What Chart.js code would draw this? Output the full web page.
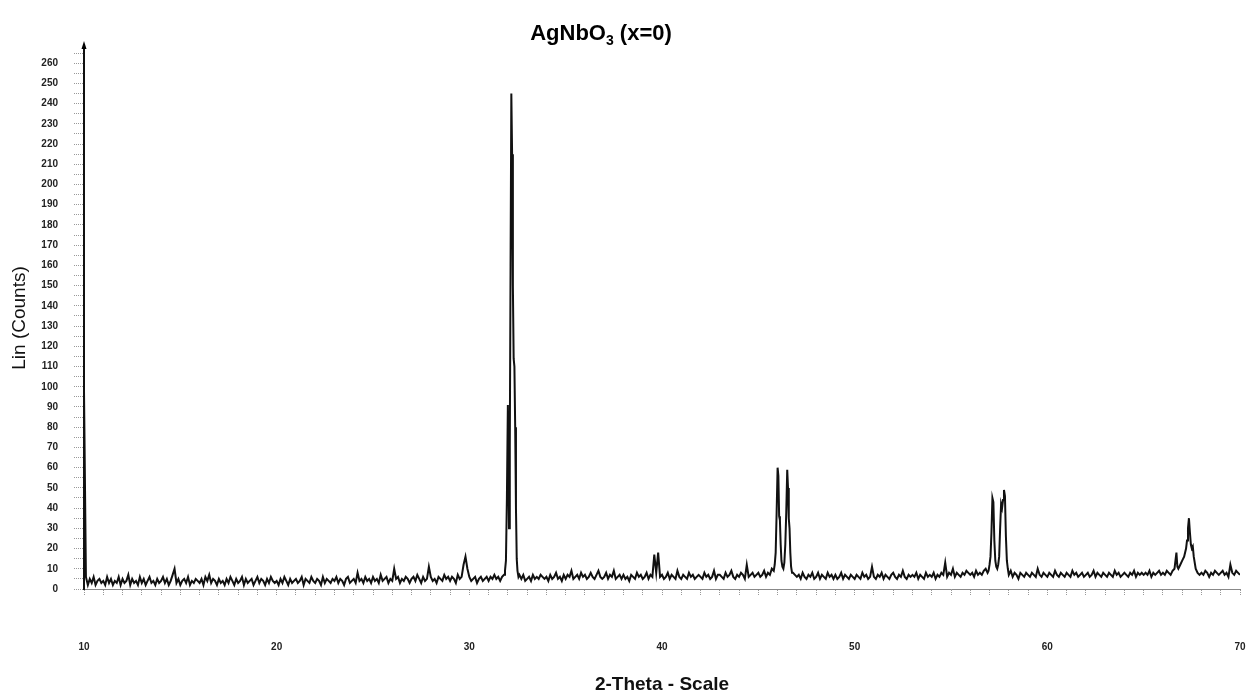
<!DOCTYPE html>
<html>
<head>
<meta charset="utf-8">
<title>AgNbO3 (x=0)</title>
<script src="https://cdn.jsdelivr.net/npm/chart.js@4.4.0/dist/chart.umd.min.js"></script>
<style>
  html, body { margin: 0; padding: 0; background: #fff; }
  canvas { display: block; }
</style>
</head>
<body>
<canvas id="xrdChart" width="1253" height="696"></canvas>
<script>
// background scan, one value every 0.1 deg starting at 10.0
const startTheta = 10;
const stepTheta = 0.1;
const baseCounts = [
  98, 6, 2, 5, 3, 6, 2, 4, 5, 3,   // 10
  4, 2, 6, 3, 5, 2, 4, 3, 6, 2,    // 11
  5, 3, 4, 7, 2, 5, 3, 4, 2, 6,    // 12
  3, 5, 2, 4, 6, 3, 4, 2, 5, 3,    // 13
  4, 6, 3, 5, 2, 4, 7, 10, 3, 5,   // 14
  2, 4, 5, 3, 6, 2, 4, 3, 5, 4,    // 15
  3, 5, 2, 6, 4, 7, 3, 5, 4, 2,    // 16
  5, 3, 4, 2, 5, 3, 6, 4, 2, 5,    // 17
  3, 4, 6, 2, 5, 3, 4, 5, 2, 4,    // 18
  6, 3, 5, 4, 2, 5, 3, 6, 4, 3,    // 19
  4, 2, 5, 3, 6, 4, 2, 5, 3, 4,    // 20
  5, 3, 4, 6, 2, 5, 4, 3, 6, 4,    // 21
  3, 5, 4, 2, 6, 3, 5, 4, 3, 5,    // 22
  4, 6, 3, 5, 4, 2, 5, 6, 3, 4,    // 23
  5, 3, 8, 4, 5, 3, 6, 4, 5, 3,    // 24
  6, 4, 5, 3, 7, 4, 5, 6, 3, 5,    // 25
  4, 10, 5, 6, 3, 5, 4, 6, 5, 3,   // 26
  5, 6, 4, 7, 5, 3, 6, 4, 5, 11,   // 27
  6, 4, 5, 3, 6, 5, 4, 7, 5, 6,    // 28
  4, 6, 5, 3, 7, 5, 6, 12, 16, 10, // 29
  6, 4, 5, 6, 3, 5, 6, 4, 5, 6,    // 30
  4, 6, 5, 7, 5, 6, 4, 6, 7, 8,    // 31
  8, 8, 8, 8, 8, 8, 7, 5, 7, 4,    // 32
  5, 6, 4, 7, 5, 6, 5, 7, 6, 5,    // 33
  6, 4, 7, 5, 6, 8, 5, 6, 4, 7,    // 34
  5, 7, 6, 9, 5, 6, 7, 5, 8, 6,    // 35
  7, 5, 6, 8, 6, 5, 7, 9, 6, 5,    // 36
  6, 8, 5, 7, 6, 9, 5, 6, 7, 5,    // 37
  7, 5, 6, 4, 7, 6, 5, 8, 6, 7,    // 38
  5, 6, 8, 5, 7, 6, 17, 8, 18, 6,  // 39
  7, 5, 6, 8, 5, 7, 6, 5, 9, 6,    // 40
  5, 7, 6, 5, 8, 6, 7, 5, 6, 7,    // 41
  6, 5, 8, 6, 7, 5, 6, 9, 5, 7,    // 42
  7, 6, 5, 8, 6, 7, 9, 6, 5, 7,    // 43
  6, 8, 7, 5, 12, 6, 7, 8, 6, 7,   // 44
  8, 6, 7, 9, 6, 8, 7, 10, 8, 9,   // 45
  8, 8, 8, 8, 8, 8, 8, 8, 8, 7,    // 46
  6, 7, 5, 8, 6, 5, 7, 6, 8, 5,    // 47
  6, 8, 5, 7, 6, 5, 8, 6, 7, 5,    // 48
  7, 5, 6, 8, 5, 7, 6, 5, 7, 6,    // 49
  5, 7, 6, 5, 8, 6, 7, 5, 6, 11,   // 50
  6, 5, 7, 6, 8, 5, 7, 6, 5, 7,    // 51
  8, 6, 5, 7, 6, 9, 6, 5, 7, 6,    // 52
  7, 6, 8, 5, 7, 6, 5, 8, 6, 7,    // 53
  6, 8, 5, 7, 6, 8, 7, 13, 6, 8,   // 54
  7, 10, 6, 8, 7, 6, 8, 7, 9, 8,   // 55
  7, 8, 6, 9, 7, 8, 7, 9, 10, 8,   // 56
  8, 8, 8, 8, 8, 8, 8, 8, 8, 8,    // 57
  7, 9, 6, 8, 7, 5, 8, 7, 6, 8,    // 58
  7, 6, 8, 7, 6, 10, 7, 6, 8, 7,   // 59
  6, 8, 7, 6, 9, 7, 6, 8, 7, 6,    // 60
  8, 7, 6, 9, 7, 8, 6, 7, 8, 6,    // 61
  7, 8, 6, 7, 9, 6, 8, 7, 6, 8,    // 62
  7, 6, 8, 7, 6, 9, 7, 8, 6, 7,    // 63
  8, 7, 6, 8, 7, 9, 6, 8, 7, 8,    // 64
  7, 8, 7, 9, 6, 8, 7, 8, 9, 7,    // 65
  8, 7, 9, 8, 7, 9, 8, 8, 8, 8,    // 66
  8, 8, 8, 8, 8, 8, 8, 8, 8, 7,    // 67
  8, 7, 9, 8, 6, 8, 7, 9, 8, 7,    // 68
  8, 9, 7, 8, 6, 12, 8, 7, 9, 8,   // 69
  7                                // 70
];

// reflections, sampled finer
const peakTheta = [
  31.85, 31.9, 31.95, 32.0, 32.03, 32.06, 32.1, 32.14, 32.18, 32.22, 32.26, 32.3, 32.34, 32.38, 32.42, 32.46, 32.5, 32.55,
  45.8, 45.85, 45.9, 45.95, 46.0, 46.04, 46.08, 46.12, 46.16, 46.2, 46.25, 46.3, 46.35, 46.4, 46.45, 46.5, 46.54, 46.58, 46.62, 46.66, 46.7, 46.75,
  56.95, 57.0, 57.05, 57.1, 57.15, 57.2, 57.25, 57.3, 57.35, 57.4, 57.45, 57.5, 57.55, 57.6, 57.65, 57.7, 57.75, 57.8, 57.85, 57.9, 57.95,
  66.6, 66.65, 66.7, 66.75, 66.8, 66.9, 67.0, 67.1, 67.2, 67.25, 67.3, 67.35, 67.4, 67.45, 67.5, 67.55, 67.6, 67.7, 67.8
];
const peakCounts = [
  9, 14, 45, 91, 60, 30, 70, 160, 245, 215, 150, 114, 110, 80, 40, 15, 9, 6,
  9, 12, 18, 38, 60, 56, 36, 34, 22, 14, 11, 10, 13, 22, 38, 59, 50, 35, 30, 18, 11, 8,
  9, 12, 16, 28, 45, 43, 24, 14, 11, 10, 12, 16, 30, 42, 40, 44, 49, 46, 26, 14, 10,
  10, 14, 18, 11, 10, 12, 14, 16, 20, 24, 30, 35, 28, 22, 20, 21, 16, 10, 8
];

const xTickLabels = ['10', '20', '30', '40', '50', '60', '70'];
const yTickLabels = ['0', '10', '20', '30', '40', '50', '60', '70', '80', '90', '100', '110', '120', '130',
  '140', '150', '160', '170', '180', '190', '200', '210', '220', '230', '240', '250', '260'];

const titleMain = 'AgNbO';
const titleSub = '3';
const titleTail = ' (x=0)';

// split the peak list into groups so the background under each one can be dropped
const peakGroups = [];
peakTheta.forEach((t, i) => {
  const last = peakGroups[peakGroups.length - 1];
  if (last && t - last.to < 0.3) {
    last.to = t;
  } else {
    peakGroups.push({ from: t, to: t });
  }
});

const points = [];
baseCounts.forEach((c, i) => {
  const t = +(startTheta + i * stepTheta).toFixed(2);
  const covered = peakGroups.some(g => t >= g.from - 0.001 && t <= g.to + 0.001);
  if (!covered) points.push({ x: t, y: c });
});
peakTheta.forEach((t, i) => points.push({ x: t, y: peakCounts[i] }));
points.sort((a, b) => a.x - b.x);

const titlePlugin = {
  id: 'subTitle',
  afterDraw(chart) {
    const ctx = chart.ctx;
    ctx.save();
    ctx.fillStyle = '#000';
    ctx.textBaseline = 'alphabetic';
    const big = 'bold 22px "Liberation Sans", Arial, sans-serif';
    const small = 'bold 14px "Liberation Sans", Arial, sans-serif';
    ctx.font = big;
    const w1 = ctx.measureText(titleMain).width;
    const w3 = ctx.measureText(titleTail).width;
    ctx.font = small;
    const w2 = ctx.measureText(titleSub).width;
    let x = 601 - (w1 + w2 + w3) / 2;
    const y = 40;
    ctx.font = big;
    ctx.fillText(titleMain, x, y);
    x += w1;
    ctx.font = small;
    ctx.fillText(titleSub, x, y + 5);
    x += w2;
    ctx.font = big;
    ctx.fillText(titleTail, x, y);

    // little arrow head on top of the y axis
    const a = chart.chartArea;
    ctx.beginPath();
    ctx.moveTo(a.left, a.top - 6);
    ctx.lineTo(a.left - 2.5, a.top + 2);
    ctx.lineTo(a.left + 2.5, a.top + 2);
    ctx.closePath();
    ctx.fill();
    ctx.restore();
  }
};

const tickFont = { family: '"Liberation Sans", Arial, sans-serif', size: 10, weight: 'bold' };

const ctx = document.getElementById('xrdChart').getContext('2d');
new Chart(ctx, {
  type: 'line',
  data: {
    datasets: [{
      data: points,
      borderColor: '#111',
      borderWidth: 2,
      pointRadius: 0,
      tension: 0,
      fill: false
    }]
  },
  options: {
    responsive: false,
    animation: false,
    layout: { padding: { top: 47, right: 13, left: 0, bottom: 0 } },
    plugins: {
      legend: { display: false },
      title: { display: false },
      tooltip: { enabled: false }
    },
    scales: {
      x: {
        type: 'linear',
        min: 10,
        max: 70,
        afterFit: s => {
          s.height = 107;
          s.paddingLeft = 0;
          s.paddingRight = 0;
        },
        afterBuildTicks: s => {
          const t = [];
          for (let v = 10; v <= 70; v++) t.push({ value: v });
          s.ticks = t;
        },
        ticks: {
          autoSkip: false,
          maxRotation: 0,
          padding: 45,
          color: '#222',
          font: tickFont,
          callback: v => xTickLabels.includes(String(v)) ? String(v) : ''
        },
        grid: {
          drawOnChartArea: false,
          tickLength: 7,
          tickColor: '#999',
          tickBorderDash: [1, 1]
        },
        border: { display: true, color: '#888', width: 1, dash: [1, 1] },
        title: {
          display: true,
          text: '2-Theta - Scale',
          color: '#111',
          font: { family: '"Liberation Sans", Arial, sans-serif', size: 19, weight: 'bold' },
          padding: { top: 0, bottom: 0 }
        }
      },
      y: {
        min: 0,
        max: 268,
        afterFit: s => { s.width = 84; },
        afterBuildTicks: s => {
          const t = [];
          for (let v = 0; v <= 265; v += 5) t.push({ value: v });
          s.ticks = t;
        },
        ticks: {
          autoSkip: false,
          padding: 16,
          color: '#222',
          font: tickFont,
          callback: v => yTickLabels.includes(String(v)) ? String(v) : ''
        },
        grid: {
          drawOnChartArea: false,
          tickLength: 10,
          tickColor: '#999',
          tickBorderDash: [1, 1]
        },
        border: { display: true, color: '#111', width: 2 },
        title: {
          display: true,
          text: 'Lin (Counts)',
          color: '#111',
          font: { family: '"Liberation Sans", Arial, sans-serif', size: 19 },
          padding: { top: 8, bottom: 0 }
        }
      }
    }
  },
  plugins: [titlePlugin]
});
</script>
</body>
</html>
